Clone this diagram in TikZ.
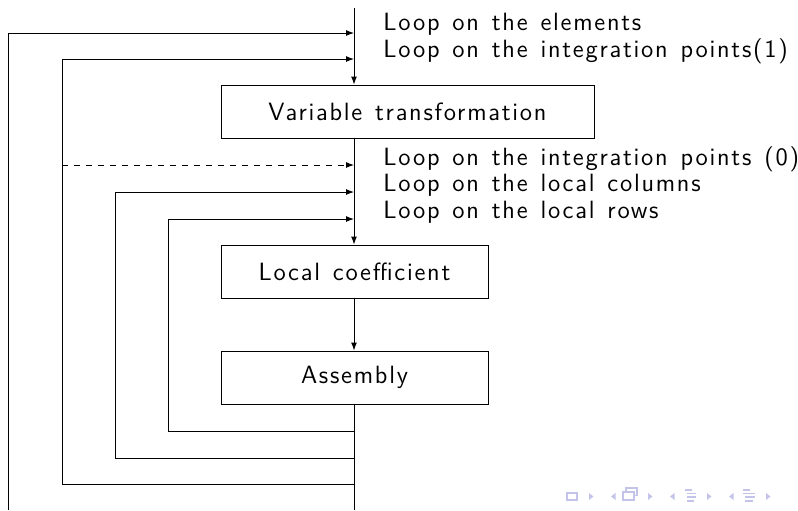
\documentclass[tikz,border=0pt]{standalone}
\usepackage{fontspec}
\setsansfont{Latin Modern Sans}[LetterSpace=7,WordSpace=1.3]
\usetikzlibrary{arrows.meta}
\begin{document}
\begin{tikzpicture}[x=0.5pt,y=-0.5pt,
  every node/.append style={font=\sffamily\fontsize{12.5}{15}\selectfont},
  flow/.style={line width=0.5pt,-{Latex[length=4pt,width=3pt]}},
  plain/.style={line width=0.5pt},
  stepbox/.style={draw,line width=0.5pt,rectangle,inner sep=0pt},
  looplabel/.style={anchor=base west,inner sep=0pt},
  navc/.style={draw=navcol,line width=0.6pt},
]
\definecolor{navcol}{RGB}{196,196,234}
\useasboundingbox (0,0) rectangle (798,510);

% boxes
\node[stepbox,minimum width=186.5pt,minimum height=26.5pt] (vt) at (407.5,111.5) {Variable transformation};
\node[stepbox,minimum width=133.5pt,minimum height=26.5pt] (lc) at (354.5,271.5) {Local coefficient};
\node[stepbox,minimum width=133.5pt,minimum height=26.5pt] (as) at (354.5,377.5) {Assembly};

% main spine coordinates
\coordinate (top) at (354,8);
\coordinate (bot) at (354,510);
\coordinate (jel) at (354,33);
\coordinate (jip) at (354,59);
\coordinate (jip0) at (354,165);
\coordinate (jcol) at (354,192);
\coordinate (jrow) at (354,219);
\coordinate (rrow) at (354,431);
\coordinate (rcol) at (354,458);
\coordinate (rip) at (354,484);
\coordinate (lel) at (8,510);
\coordinate (lip) at (62,59);
\coordinate (lip0) at (62,165);
\coordinate (lcol) at (115,192);
\coordinate (lrow) at (168,219);

% spine
\draw[flow] (top) -- (vt.north -| top);
\draw[flow] (vt.south -| top) -- (lc.north -| top);
\draw[flow] (lc.south -| top) -- (as.north -| top);
\draw[plain] (as.south -| top) -- (bot);

% loop returns
\draw[flow] (lel) |- (jel);
\draw[flow] (rip) -| (lip) -- (jip);
\draw[flow,dashed] (lip0) -- (jip0);
\draw[flow] (rcol) -| (lcol) -- (jcol);
\draw[flow] (rrow) -| (lrow) -- (jrow);

% loop labels
\node[looplabel] (t1) at (383,30.5) {Loop on the elements};
\node[looplabel] (t2) at (383,57) {Loop on the integration points(1)};
\node[looplabel] (t3) at (383,165) {Loop on the integration points (0)};
\node[looplabel] (t4) at (383,191.5) {Loop on the local columns};
\node[looplabel] (t5) at (383,218) {Loop on the local rows};

% navigation symbols
\draw[navc] (567,493) rectangle (577,500);
\fill[navcol] (589,493) -- (593.5,496.5) -- (589,500) -- cycle;
\fill[navcol] (615.5,493) -- (611,496.5) -- (615.5,500) -- cycle;
\draw[navc,fill=white] (626,488) rectangle (637,495.5);
\draw[navc,fill=white] (623,492) rectangle (634,500);
\fill[navcol] (648,493) -- (652.5,496.5) -- (648,500) -- cycle;
\fill[navcol] (674.5,493) -- (670,496.5) -- (674.5,500) -- cycle;
\draw[navc] (685,490) -- (692,490) (687,493.5) -- (696,493.5) (687,497) -- (696,497) (687,501) -- (694,501);
\fill[navcol] (707,493) -- (711.5,496.5) -- (707,500) -- cycle;
\fill[navcol] (733.5,493) -- (729,496.5) -- (733.5,500) -- cycle;
\draw[navc] (743,490) -- (750,490) (743,493.5) -- (755,493.5) (745,497) -- (755,497) (745,501) -- (753,501);
\fill[navcol] (766,493) -- (770.5,496.5) -- (766,500) -- cycle;
\end{tikzpicture}
\end{document}
